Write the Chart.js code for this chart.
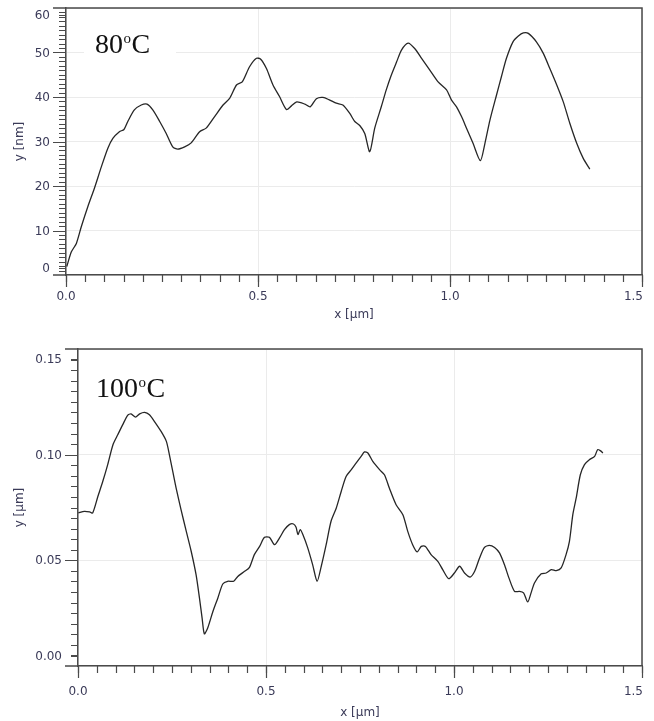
<!DOCTYPE html>
<html><head><meta charset="utf-8">
<script src="https://cdn.jsdelivr.net/npm/chart.js@4.4.1/dist/chart.umd.min.js"></script>
<style>
html,body{margin:0;padding:0;background:#fff;width:654px;height:721px;overflow:hidden}
.box{position:absolute;left:0;width:654px}
#b1{top:0;height:325px}
#b2{top:335px;height:386px}
canvas{display:block}
</style></head><body>
<div class="box" id="b1"><canvas id="c1"></canvas></div>
<div class="box" id="b2"><canvas id="c2"></canvas></div>
<script>
// ---- 80 °C profile (x in µm, y in nm)
const x80 = [0.002,0.014,0.027,0.040,0.057,0.074,0.092,0.109,0.122,0.139,0.151,0.161,0.178,0.196,0.211,0.226,0.244,0.261,0.278,0.291,0.309,0.326,0.348,0.365,0.387,0.409,0.426,0.444,0.459,0.478,0.496,0.507,0.522,0.539,0.556,0.574,0.587,0.601,0.622,0.636,0.652,0.669,0.687,0.704,0.721,0.739,0.752,0.765,0.778,0.791,0.804,0.821,0.834,0.847,0.861,0.874,0.891,0.908,0.926,0.947,0.969,0.991,1.004,1.017,1.030,1.043,1.060,1.079,1.091,1.104,1.121,1.134,1.147,1.164,1.178,1.191,1.204,1.225,1.243,1.260,1.278,1.295,1.312,1.330,1.347,1.364];
const y80 = [1.9,5.2,7.1,10.9,15.4,19.5,24.3,28.5,30.7,32.2,32.7,34.5,37.1,38.2,38.4,37.1,34.5,31.8,28.8,28.3,28.8,29.7,32.2,33.0,35.6,38.2,39.7,42.7,43.4,46.8,48.7,48.5,46.4,42.7,40.1,37.2,38.0,38.9,38.4,37.8,39.6,39.9,39.3,38.6,38.2,36.3,34.5,33.6,31.8,27.7,33.0,37.8,41.6,44.9,47.9,50.6,52.1,50.9,48.7,46.1,43.4,41.6,39.3,37.8,35.6,33.0,29.6,25.7,29.6,34.8,40.4,44.6,48.7,52.4,53.7,54.4,54.3,52.4,49.8,46.4,42.7,38.9,34.1,29.6,26.2,23.8];
// ---- 100 °C profile (x in µm, y in µm)
const x100 = [0.001,0.017,0.031,0.039,0.053,0.066,0.079,0.093,0.106,0.119,0.132,0.141,0.153,0.164,0.177,0.190,0.203,0.221,0.235,0.243,0.252,0.261,0.274,0.288,0.301,0.314,0.323,0.330,0.336,0.345,0.359,0.372,0.385,0.398,0.414,0.425,0.443,0.456,0.469,0.483,0.496,0.509,0.523,0.536,0.549,0.562,0.573,0.580,0.585,0.591,0.598,0.611,0.624,0.636,0.647,0.660,0.673,0.687,0.700,0.713,0.727,0.740,0.753,0.762,0.771,0.784,0.802,0.815,0.828,0.846,0.864,0.877,0.890,0.902,0.913,0.924,0.939,0.957,0.970,0.986,1.001,1.015,1.028,1.043,1.055,1.068,1.081,1.094,1.108,1.121,1.134,1.146,1.161,1.174,1.185,1.196,1.205,1.214,1.232,1.245,1.259,1.272,1.285,1.298,1.307,1.316,1.325,1.336,1.347,1.360,1.374,1.382,1.389,1.396];
const y100 = [0.0724,0.0732,0.0729,0.0724,0.0803,0.0874,0.0953,0.1047,0.1095,0.1142,0.1186,0.1193,0.1178,0.1193,0.1200,0.1189,0.1158,0.1110,0.1063,0.1000,0.0921,0.0842,0.0740,0.0637,0.0543,0.0432,0.0322,0.0228,0.0152,0.0180,0.0259,0.0322,0.0388,0.0401,0.0401,0.0424,0.0448,0.0467,0.0527,0.0566,0.0609,0.0609,0.0574,0.0606,0.0645,0.0669,0.0672,0.0656,0.0622,0.0645,0.0622,0.0559,0.0480,0.0401,0.0472,0.0574,0.0685,0.0748,0.0826,0.0897,0.0929,0.0961,0.0992,0.1013,0.1008,0.0968,0.0929,0.0905,0.0842,0.0763,0.0716,0.0637,0.0574,0.0540,0.0566,0.0566,0.0527,0.0495,0.0456,0.0413,0.0440,0.0472,0.0440,0.0421,0.0448,0.0511,0.0561,0.0571,0.0561,0.0535,0.0480,0.0417,0.0353,0.0353,0.0346,0.0303,0.0346,0.0393,0.0436,0.0440,0.0456,0.0451,0.0464,0.0527,0.0590,0.0716,0.0795,0.0905,0.0953,0.0976,0.0992,0.1024,0.1019,0.1008];

const xTicks = [0, 0.5, 1.0, 1.5];
const xMinorStep = 0.05;
const yTicks80 = [0,10,20,30,40,50,60];
const yMinor80 = 1;
const yTicks100 = [0,0.05,0.10,0.15];
const yMinor100 = 0.005;
const xTitle = 'x [µm]';
const yTitle80 = 'y [nm]';
const yTitle100 = 'y [µm]';
const tag80 = ['80','o','C'];
const tag100 = ['100','o','C'];

const AX = '#4a4a4a';
const LBL = '#3a3a58';
const FONT = 'DejaVu Sans';

const decor = {
  id: 'decor',
  beforeDatasetsDraw(chart, args, o) {
    const ctx = chart.ctx;
    ctx.save();
    ctx.fillStyle = '#fff';
    ctx.fillRect(o.box[0], o.box[1], o.box[2], o.box[3]);
    ctx.fillStyle = '#111';
    ctx.textBaseline = 'alphabetic';
    ctx.textAlign = 'left';
    let x = o.tagX;
    ctx.font = '28px "Liberation Serif"';
    ctx.fillText(o.tag[0], x, o.tagY);
    x += ctx.measureText(o.tag[0]).width + 0.5;
    ctx.font = '15px "Liberation Serif"';
    ctx.fillText(o.tag[1], x, o.tagY - 10);
    x += ctx.measureText(o.tag[1]).width + 0.5;
    ctx.font = '28px "Liberation Serif"';
    ctx.fillText(o.tag[2], x, o.tagY);
    ctx.restore();
  },
  afterDraw(chart, args, o) {
    const ctx = chart.ctx, a = chart.chartArea;
    const xs = chart.scales.x, ys = chart.scales.y;
    ctx.save();
    ctx.strokeStyle = AX;
    ctx.lineWidth = 1.5;
    // frame: top and right, top/bottom extended left like long ticks
    ctx.beginPath();
    ctx.moveTo(a.left - 13, a.top); ctx.lineTo(a.right, a.top); ctx.lineTo(a.right, a.bottom);
    ctx.moveTo(a.left - 13, a.bottom); ctx.lineTo(a.left, a.bottom);
    ctx.stroke();
    // x minor ticks
    ctx.lineWidth = 1.2;
    ctx.beginPath();
    const nx = Math.round((xs.max - xs.min) / o.xMinor);
    for (let i = 0; i <= nx; i++) {
      const v = xs.min + i * o.xMinor;
      const px = Math.round(xs.getPixelForValue(v)) + 0.5;
      ctx.moveTo(px, a.bottom); ctx.lineTo(px, a.bottom + 7);
    }
    ctx.stroke();
    // y ticks
    const ax = a.left;
    const nMaj = o.yMajor.length;
    ctx.beginPath();
    for (let i = 1; i < nMaj - 1; i++) {
      const py = Math.round(ys.getPixelForValue(o.yMajor[i])) + 0.5;
      ctx.moveTo(ax - 13, py); ctx.lineTo(ax, py);
    }
    const ny = Math.round((ys.max - ys.min) / o.yMinor);
    for (let k = 1; k < ny; k++) {
      const q = Math.round(ys.getPixelForValue(ys.min + k * o.yMinor)) + 0.5;
      ctx.moveTo(ax - 7, q); ctx.lineTo(ax, q);
    }
    // edge labels sit inward with a short tick
    const lp = o.yMajor.map((v, i) => {
      let p = ys.getPixelForValue(v);
      if (i === 0) p -= o.inset;
      if (i === nMaj - 1) p += o.inset;
      return p;
    });
    [0, nMaj - 1].forEach(i => {
      const q = Math.round(lp[i]) + 0.5;
      ctx.moveTo(ax - 7, q); ctx.lineTo(ax, q);
    });
    ctx.stroke();
    ctx.fillStyle = LBL;
    ctx.font = '12px "' + FONT + '"';
    ctx.textAlign = 'right';
    ctx.textBaseline = 'middle';
    for (let i = 0; i < nMaj; i++) {
      ctx.fillText(o.yMajor[i].toFixed(o.dec), ax - 16, lp[i] + 1);
    }
    // x labels (last one kept inside the frame)
    ctx.textBaseline = 'middle';
    xTicks.forEach((v, i) => {
      const px = xs.getPixelForValue(v);
      ctx.textAlign = (i === xTicks.length - 1) ? 'right' : 'center';
      ctx.fillText(v.toFixed(1), (i === xTicks.length - 1) ? px + 1 : px, a.bottom + o.xLblDy);
    });
    ctx.restore();
  }
};

function makeChart(id, xs, ys, cfg) {
  return new Chart(document.getElementById(id), {
    type: 'line',
    data: { datasets: [{ data: xs.map((x, i) => ({x: x, y: ys[i]})), borderColor: '#262626', borderWidth: 1.3, pointRadius: 0, tension: 0.25, fill: false }] },
    plugins: [decor],
    options: {
      responsive: true, maintainAspectRatio: false, animation: false, devicePixelRatio: 1,
      layout: { padding: { top: cfg.padTop, right: 12, left: 0, bottom: 0 } },
      plugins: { legend: {display: false}, tooltip: {enabled: false}, decor: cfg.decor },
      scales: {
        x: {
          type: 'linear', min: 0, max: 1.5,
          afterBuildTicks: s => { s.ticks = xTicks.map(v => ({value: v})); },
          ticks: { display: false },
          grid: { color: '#ebebeb', lineWidth: 1, tickColor: AX, tickLength: 12, tickWidth: 1.2 },
          border: { display: true, color: AX, width: 1.5 },
          title: { display: true, text: xTitle, font: {family: FONT, size: 12}, color: LBL, padding: {top: 0, bottom: cfg.xTitlePad} },
          afterFit: s => { s.height = cfg.xH; s.paddingLeft = 0; s.paddingRight = 0; }
        },
        y: {
          type: 'linear', min: cfg.yMin, max: cfg.yMax,
          afterBuildTicks: s => { s.ticks = cfg.yTicks.map(v => ({value: v})); },
          ticks: { display: false },
          grid: { color: '#ebebeb', lineWidth: 1, drawTicks: false },
          border: { display: true, color: AX, width: 1.5 },
          title: { display: true, text: cfg.yTitle, font: {family: FONT, size: 12}, color: LBL, padding: {top: 13, bottom: 0} },
          afterFit: s => { s.width = cfg.yW; s.paddingTop = 0; s.paddingBottom = 0; }
        }
      }
    }
  });
}

makeChart('c1', x80, y80, {
  padTop: 8, yW: 66, xH: 50, xTitlePad: 3, yMin: 0, yMax: 60, yTicks: yTicks80, yTitle: yTitle80,
  decor: { xMinor: xMinorStep, yMajor: yTicks80, yMinor: yMinor80, inset: 7, dec: 0, xLblDy: 22, tag: tag80, tagX: 95, tagY: 53, box: [84, 24, 92, 44] }
});
makeChart('c2', x100, y100, {
  padTop: 14, yW: 78, xH: 55, xTitlePad: 1, yMin: 0, yMax: 0.15, yTicks: yTicks100, yTitle: yTitle100,
  decor: { xMinor: xMinorStep, yMajor: yTicks100, yMinor: yMinor100, inset: 10, dec: 2, xLblDy: 26, tag: tag100, tagX: 96, tagY: 62, box: [86, 20, 100, 50] }
});
</script>
</body></html>
